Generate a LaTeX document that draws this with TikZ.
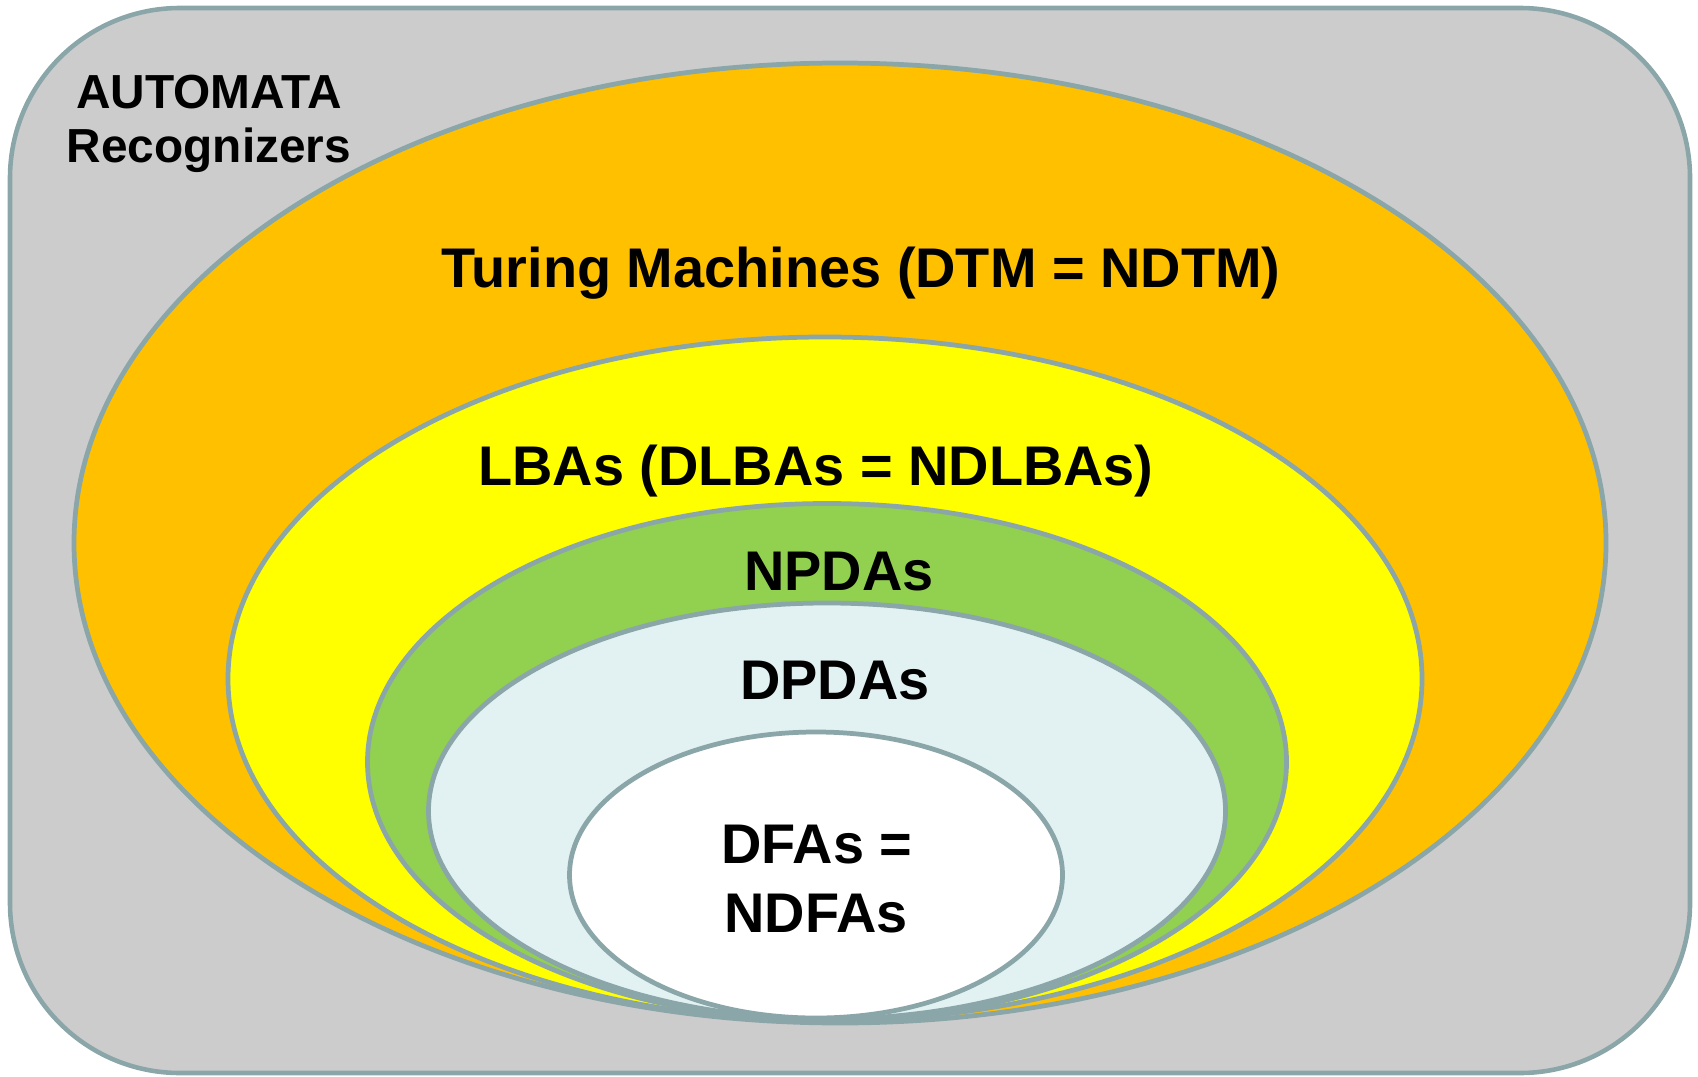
\documentclass[tikz,border=0pt]{standalone}
\usepackage{fontspec}
\setmainfont{Liberation Sans}
\usepackage{xcolor}
\usepackage{tikz}
\usetikzlibrary{shapes.geometric}

\definecolor{edgegray}{RGB}{138,166,168}
\definecolor{boxgray}{RGB}{204,204,204}
\definecolor{tmorange}{RGB}{255,192,0}
\definecolor{lbayellow}{RGB}{255,255,0}
\definecolor{npdagreen}{RGB}{146,208,80}
\definecolor{dpdablue}{RGB}{226,242,243}

\begin{document}
\begin{tikzpicture}[
    class/.style={ellipse, draw=edgegray, line width=1.35pt, fill=#1,
                  inner sep=0pt},
    lbl/.style={anchor=base, inner sep=0pt,
                font=\fontsize{15.9}{19}\selectfont\bfseries},
    title/.style={anchor=base, inner sep=0pt,
                  font=\fontsize{13.6}{16}\selectfont\bfseries}
]
\useasboundingbox (0,0) rectangle (16.98,10.76);
\draw[draw=edgegray, line width=1.3pt, fill=boxgray, rounded corners=1.7cm]
    (0.10,0.03) rectangle (16.90,10.68);

% nested language classes
\node[class=tmorange,  minimum width=15.32cm, minimum height=9.60cm] (tm)   at (8.40,5.33) {};
\node[class=lbayellow, minimum width=11.94cm, minimum height=6.84cm] (lba)  at (8.25,3.97) {};
\node[class=npdagreen, minimum width=9.19cm,  minimum height=5.17cm] (npda) at (8.27,3.14) {};
\node[class=dpdablue,  minimum width=7.97cm,  minimum height=4.16cm] (dpda) at (8.27,2.65) {};
\node[class=white,     minimum width=4.93cm,  minimum height=2.86cm] (dfa)  at (8.16,2.01) {};

\node[title] (auto)  at (2.09,9.67)  {AUTOMATA};
\node[title] (recog) at (2.09,9.135) {Recognizers};

\node[lbl] (tmlbl)   at (8.61,7.88)  {Turing Machines (DTM = NDTM)};
\node[lbl] (lbalbl)  at (8.16,5.91)  {LBAs (DLBAs = NDLBAs)};
\node[lbl] (npdalbl) at (8.39,4.86)  {NPDAs};
\node[lbl] (dpdalbl) at (8.35,3.765) {DPDAs};
\node[lbl] (dfalbl)  at (8.17,2.13)  {DFAs =};
\node[lbl] (ndfalbl) at (8.16,1.44)  {NDFAs};
\end{tikzpicture}
\end{document}
